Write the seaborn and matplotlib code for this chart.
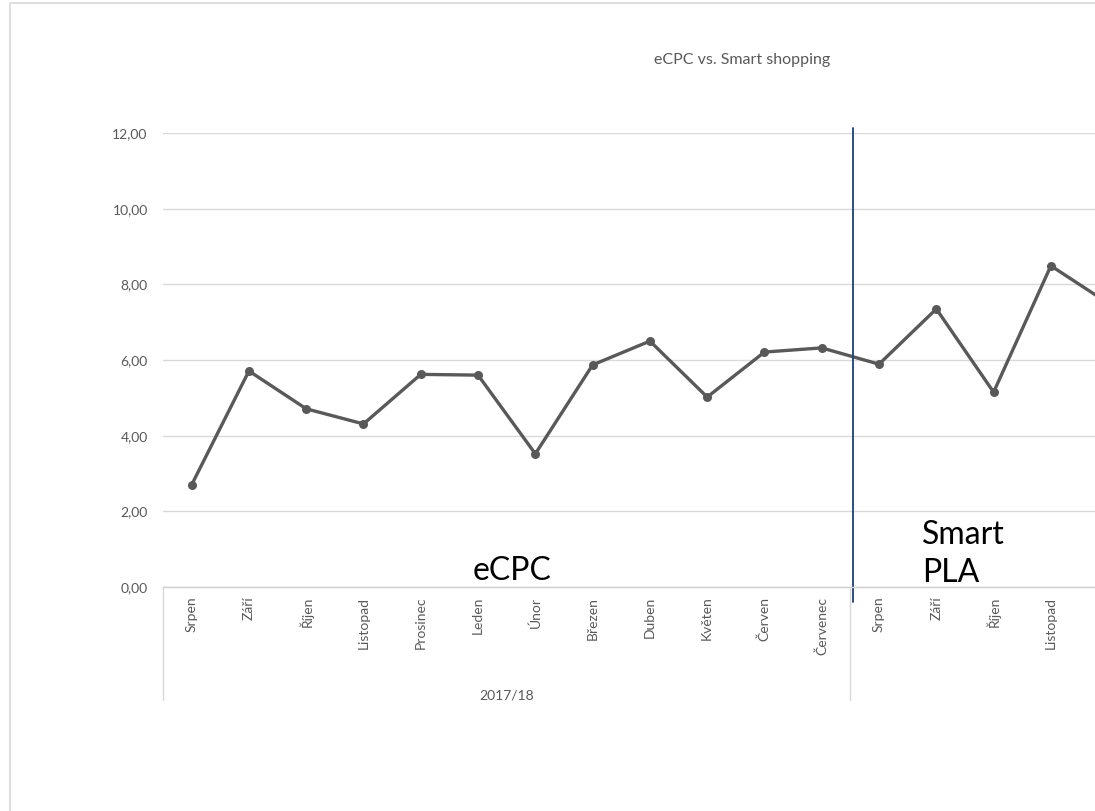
import numpy as np
import pandas as pd
import matplotlib
matplotlib.use("Agg")
import matplotlib.pyplot as plt
import matplotlib.transforms as mtransforms
from matplotlib.patches import Rectangle
import seaborn as sns

# data (Excel chart, cut on the right)
months = ['Srpen', 'Září', 'Říjen', 'Listopad', 'Prosinec', 'Leden', 'Únor',
          'Březen', 'Duben', 'Květen', 'Červen', 'Červenec',
          'Srpen', 'Září', 'Říjen', 'Listopad', 'Prosinec']
ecpc = [2.70, 5.71, 4.71, 4.31, 5.62, 5.60, 3.52, 5.87, 6.50, 5.02, 6.21, 6.32,
        5.89, 7.35, 5.15, 8.49, 7.50]
year_label = '2017/18'
n_first = 12

df = pd.DataFrame({'pos': np.arange(len(months)), 'month': months, 'value': ecpc})

sns.set_style('white')
plt.rcParams['font.family'] = ['Lato', 'DejaVu Sans']

W, H = 1095, 811
fig = plt.figure(figsize=(W / 100, H / 100), dpi=100)
ax = fig.add_axes([163 / W, (H - 587) / H, 1 - 163 / W, 454 / H])

grey_txt = '#595959'
sns.lineplot(data=df, x='pos', y='value', ax=ax, color='#595959', linewidth=2.4,
             marker='o', markersize=6.5, markeredgewidth=0, legend=False)

ax.set_yticks(np.arange(0, 13, 2))
ax.set_yticklabels([f'{v:.2f}'.replace('.', ',') for v in np.arange(0, 13, 2)])
ax.set_xticks(df['pos'])
ax.set_xticklabels(months, rotation=90, va='top')
# limits after the ticks, otherwise set_xticks widens the view again
ax.set_xlim(-0.5, 15.77)
ax.set_ylim(0, 12)
ax.tick_params(axis='both', length=0, colors=grey_txt, labelsize=10)
ax.tick_params(axis='y', pad=11)
ax.tick_params(axis='x', pad=7)
ax.set_xlabel('')
ax.set_ylabel('')
ax.grid(axis='y', color='#d9d9d9', linewidth=1)
ax.grid(axis='x', visible=False)
for s in ['top', 'right', 'left']:
    ax.spines[s].set_visible(False)
ax.spines['bottom'].set_color('#d0d0d0')
ax.spines['bottom'].set_linewidth(1)

# multi-level category separators and group label
trans = mtransforms.blended_transform_factory(ax.transData, fig.transFigure)
for xs in [-0.5, n_first - 0.5]:
    ax.plot([xs, xs], [(H - 587) / H, (H - 700) / H], color='#d9d9d9', lw=1,
            transform=trans, clip_on=False)
ax.text((n_first - 1) / 2, (H - 695) / H, year_label, transform=trans,
        ha='center', va='center', fontsize=10, color=grey_txt)

# divider between eCPC and Smart PLA
ax.plot([11.55, 11.55], [(H - 128) / H, (H - 602) / H], color='#1f3f73', lw=1.3,
        transform=trans, clip_on=False)
ax.text(5.6, 0.42, 'eCPC', ha='center', va='center', fontsize=23, color='black')
ax.text(12.75, 0.88, 'Smart\nPLA', ha='left', va='center', fontsize=23,
        color='black', linespacing=1.35)

fig.text(742 / W, (H - 60) / H, 'eCPC vs. Smart shopping', ha='center', va='center',
         fontsize=11.5, color=grey_txt)

# chart area border (cut on the right and bottom)
fig.patches.append(Rectangle((10 / W, -0.1), 1.2, (H - 3) / H + 0.1,
                             transform=fig.transFigure, fill=False,
                             edgecolor='#d9d9d9', linewidth=1.2))

fig.savefig('out.png', dpi=100)
